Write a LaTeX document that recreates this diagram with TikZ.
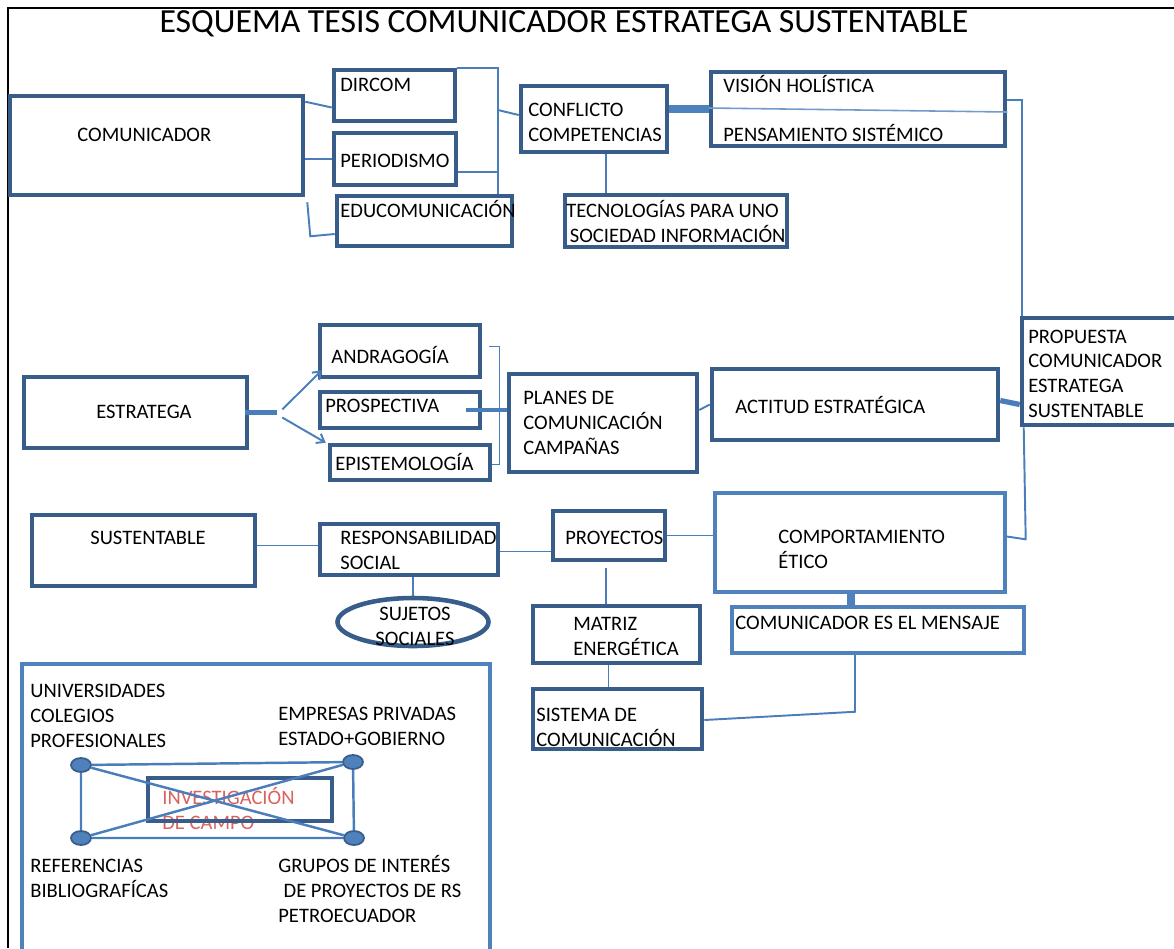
\documentclass[tikz,border=0pt]{standalone}
\usepackage{fontspec}
\setmainfont{Carlito}
\usepackage{tikz}
\usetikzlibrary{
  positioning,
  calc,
  fit,
  arrows.meta,
  shapes.geometric
}
\definecolor{azuloscuro}{HTML}{385D8A}
\definecolor{azulclaro}{HTML}{4F81BD}
\definecolor{azullinea}{HTML}{4A7EBB}
\definecolor{rojizo}{HTML}{D9625C}

\tikzstyle{caja}=[draw=azuloscuro, line width=2.6pt, inner sep=0pt]
\tikzstyle{cajaclara}=[draw=azulclaro, line width=2pt, inner sep=0pt]
\tikzstyle{texto}=[anchor=base west, inner sep=0pt, align=left, font=\fontsize{11.7}{14}\selectfont]
\tikzstyle{conector}=[azullinea, line width=1.1pt]
\tikzstyle{flecha}=[conector, -{Straight Barb[length=4pt, width=6pt]}]
\tikzstyle{punto}=[ellipse, draw=azuloscuro, fill=azulclaro, line width=1pt, minimum width=0.4cm, minimum height=0.28cm, inner sep=0pt]

\begin{document}
\begin{tikzpicture}[x=0.02cm, y=-0.02cm]
    \useasboundingbox (0,0) rectangle (1174,948);

    % marco y titulo
    \draw[black, line width=1.2pt] (8,948) -- (8,8) -- (1174,8);
    \node[anchor=base, inner sep=0pt, font=\fontsize{19.2}{22}\selectfont] (titulo) at (564,32) {ESQUEMA TESIS COMUNICADOR ESTRATEGA SUSTENTABLE};

    % bloque comunicador
    \node[caja, fit={(10,96) (303,195)}] (comunicador) {};
    \node[caja, fit={(334,70) (455,121)}] (dircom) {};
    \node[caja, fit={(334,133) (456,185)}] (periodismo) {};
    \node[caja, fit={(337,196) (512,246)}] (educom) {};
    \node[caja, fit={(521,86) (667,152)}] (conflicto) {};
    \node[caja, fit={(711,72) (1005,146)}] (vision) {};
    \node[caja, fit={(565,195) (787,247)}] (tecno) {};
    \node[caja, fit={(1022,318) (1190,425)}] (propuesta) {};

    % bloque estratega
    \node[caja, fit={(24,377) (247,448)}] (estratega) {};
    \node[caja, fit={(320,325) (480,377)}] (andragogia) {};
    \node[caja, fit={(320,392) (480,428)}] (prospectiva) {};
    \node[caja, fit={(330,445) (490,480)}] (epistemo) {};
    \node[caja, fit={(509,374) (697,472)}] (planes) {};
    \node[caja, fit={(712,369) (998,440)}] (actitud) {};

    % bloque sustentable
    \node[caja, fit={(32,515) (255,586)}] (sustentable) {};
    \node[caja, fit={(320,524) (498,575)}] (respons) {};
    \node[ellipse, draw=azuloscuro, line width=2.6pt, minimum width=3.02cm, minimum height=0.96cm, inner sep=0pt] (sujetos) at (413,622) {};
    \node[caja, fit={(553,511) (665,560)}] (proyectos) {};
    \node[cajaclara, fit={(715,493) (1005,592)}] (comport) {};
    \node[cajaclara, fit={(732,607) (1024,653)}] (mensaje) {};
    \node[caja, fit={(533,606) (700,663)}] (matriz) {};
    \node[caja, fit={(533,689) (702,749)}] (sistema) {};

    % conectores comunicador
    \coordinate (llave) at (498,0);
    \draw[conector] ($(comunicador.north east)+(0,8)$) -- ($(dircom.west)+(0,12)$);
    \draw[conector] (comunicador.east |- periodismo.west) -- (periodismo.west);
    \draw[conector] ($(comunicador.south east)+(2,5)$) -- ($(comunicador.south east)+(5,39)$) -- ($(educom.west)+(0,13)$);
    \draw[conector] (dircom.north east) -| (llave |- educom.north);
    \draw[conector] ($(periodismo.east)+(0,13)$) -- ($(llave |- periodismo.east)+(0,13)$);
    \draw[conector] ($(llave |- conflicto.west)+(0,-9)$) -- ($(conflicto.west)+(0,-4)$);
    \draw[azulclaro, line width=4.5pt] (conflicto.east |- vision.west) -- (vision.west);
    \draw[azulclaro!80, line width=0.9pt] ($(vision.west)+(0,-1)$) -- ($(vision.east)+(0,3)$);
    \draw[conector] ($(conflicto.south)+(12,0)$) coordinate (tc) -- (tc |- tecno.north);
    \draw[conector] ($(vision.east)+(0,-9)$) -| ($(propuesta.north west)+(2,0)$);
    \draw[conector] ($(propuesta.south west)+(4,0)$) -- ($(propuesta.south west)+(6,112)$) -- ($(comport.east)+(0,-6)$);

    % conectores estratega
    \draw[conector, line width=2.5pt] ($(estratega.east)+(-4,0)$) -- ($(estratega.east)+(28,0)$) coordinate (ramif);
    \draw[flecha] ($(ramif)+(5,-3)$) -- ($(andragogia.south west)+(4,-9)$);
    \draw[flecha] ($(ramif)+(5,5)$) -- ($(epistemo.north west)+(-2,0)$);
    \draw[conector, line width=0.8pt] ($(andragogia.north east)+(7,24)$) -- ($(andragogia.north east)+(17,24)$) |- ($(epistemo.east)+(0,2)$);
    \draw[conector, line width=2pt] ($(prospectiva.east)+(-16,0)$) -- (planes.west |- prospectiva.east);
    \draw[conector] ($(planes.east)+(0,-13)$) -- (actitud.west);
    \draw[conector, line width=3pt] ($(actitud.east)+(0,-4)$) -- ($(propuesta.west)+(0,33)$);

    % conectores sustentable
    \draw[conector] ($(sustentable.east)+(0,-5)$) coordinate (s1) -- (s1 -| respons.west);
    \draw[conector] (sujetos.north |- respons.south) -- (sujetos.north);
    \draw[conector] ($(respons.east)+(0,2)$) coordinate (r1) -- (r1 -| proyectos.west);
    \draw[conector] (proyectos.east) -- (proyectos.east -| comport.west);
    \draw[conector] ($(proyectos.south)+(-3,6)$) coordinate (p1) -- (p1 |- matriz.north);
    \draw[azulclaro, line width=4.5pt] ($(comport.south)+(-9,0)$) coordinate (c1) -- (c1 |- mensaje.north);
    \draw[conector] ($(matriz.south)+(-8,0)$) coordinate (m1) -- (m1 |- sistema.north);
    \draw[conector] ($(mensaje.south)+(-23,0)$) -- ($(mensaje.south)+(-23,57)$) -- ($(sistema.east)+(0,1)$);

    % investigacion de campo
    \node[cajaclara, fit={(22,664) (490,970)}] (campo) {};
    \node[texto, text=rojizo] (tinvestig) at (162,829) {INVESTIGACIÓN\\DE CAMPO};
    \node[caja, line width=2pt, fit={(148,778) (332,821)}] (investig) {};
    \node[punto] (d1) at (81,765) {};
    \node[punto] (d2) at (353,762) {};
    \node[punto] (d3) at (81,838) {};
    \node[punto] (d4) at (354,838) {};
    \draw[conector, line width=1.4pt] (d1) -- (d2) -- (d4) -- (d3) -- (d1);
    \draw[conector, line width=1.4pt] (d1) -- (d4);
    \draw[conector, line width=1.4pt] (d3) -- (d2);

    % textos (base en la ultima linea)
    \node[texto] (tcomunicador) at (77,141) {COMUNICADOR};
    \node[texto] (tdircom) at (340,91) {DIRCOM};
    \node[texto] (tperiodismo) at (340,167) {PERIODISMO};
    \node[texto] (teducom) at (340,217) {EDUCOMUNICACIÓN};
    \node[texto] (tconflicto) at (528,141) {CONFLICTO\\COMPETENCIAS};
    \node[texto] (tvision) at (723,92) {VISIÓN HOLÍSTICA};
    \node[texto] (tpensamiento) at (723,141) {PENSAMIENTO SISTÉMICO};
    \node[texto] (ttecno) at (566,242) {TECNOLOGÍAS PARA UNO\\\hspace*{2pt}SOCIEDAD INFORMACIÓN};
    \node[texto] (tpropuesta) at (1028,417) {PROPUESTA\\COMUNICADOR\\ESTRATEGA\\SUSTENTABLE};
    \node[texto] (testratega) at (96,418) {ESTRATEGA};
    \node[texto] (tandragogia) at (331,363) {ANDRAGOGÍA};
    \node[texto] (tprospectiva) at (325,412) {PROSPECTIVA};
    \node[texto] (tepistemo) at (335,470) {EPISTEMOLOGÍA};
    \node[texto] (tplanes) at (523,454) {PLANES DE\\COMUNICACIÓN\\CAMPAÑAS};
    \node[texto] (tactitud) at (735,413) {ACTITUD ESTRATÉGICA};
    \node[texto] (tsustentable) at (90,544) {SUSTENTABLE};
    \node[texto] (trespons) at (340,569) {RESPONSABILIDAD\\SOCIAL};
    \node[texto, anchor=base, align=center] (tsujetos) at (415,645) {SUJETOS\\SOCIALES};
    \node[texto] (tproyectos) at (565,544) {PROYECTOS};
    \node[texto] (tcomport) at (778,568) {COMPORTAMIENTO\\ÉTICO};
    \node[texto] (tmensaje) at (735,629) {COMUNICADOR ES EL MENSAJE};
    \node[texto] (tmatriz) at (573,655) {MATRIZ\\ENERGÉTICA};
    \node[texto] (tsistema) at (536,746) {SISTEMA DE\\COMUNICACIÓN};
    \node[texto] (tuniv) at (30,747) {UNIVERSIDADES\\COLEGIOS\\PROFESIONALES};
    \node[texto] (tempresas) at (278,745) {EMPRESAS PRIVADAS\\ESTADO+GOBIERNO};
    \node[texto] (treferencias) at (30,897) {REFERENCIAS\\BIBLIOGRAFÍCAS};
    \node[texto] (tgrupos) at (278,922) {GRUPOS DE INTERÉS\\\hspace*{3pt}DE PROYECTOS DE RS\\PETROECUADOR};
\end{tikzpicture}
\end{document}
